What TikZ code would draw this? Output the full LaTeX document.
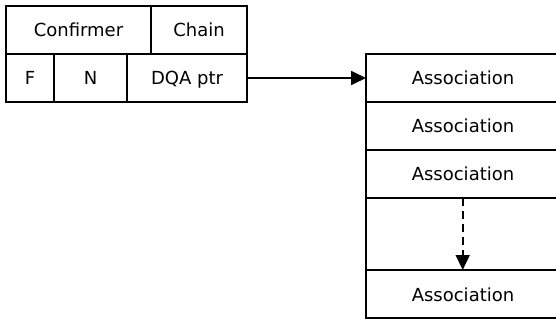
\documentclass[tikz,border=0pt]{standalone}
\usepackage{fontspec}
\setmainfont{DejaVu Sans}
\usetikzlibrary{arrows.meta}
\begin{document}
\begin{tikzpicture}[x=1pt,y=-1pt,
  cell/.style={draw,line width=1.8pt,anchor=north west,inner sep=0pt,outer sep=0pt,
    text height=14pt,text depth=0pt,
    font=\fontsize{18}{21}\selectfont},
  conn/.style={line width=1.8pt,-{Triangle[length=15pt,width=14pt]}}]
\useasboundingbox (0,0) rectangle (556,320);
\node[cell,minimum width=145pt,minimum height=48pt] (conf) at (6,6) {Confirmer};
\node[cell,minimum width=96pt,minimum height=48pt] (chain) at (151,6) {Chain};
\node[cell,minimum width=48pt,minimum height=48pt] (f) at (6,54) {F};
\node[cell,minimum width=73pt,minimum height=48pt] (n) at (54,54) {N};
\node[cell,minimum width=120pt,minimum height=48pt] (dqa) at (127,54) {DQA ptr};
\node[cell,minimum width=194pt,minimum height=48pt] (a1) at (366,54) {Association};
\node[cell,minimum width=194pt,minimum height=48pt] (a2) at (366,102) {Association};
\node[cell,minimum width=194pt,minimum height=48pt] (a3) at (366,150) {Association};
\node[cell,minimum width=194pt,minimum height=72pt] (gap) at (366,198) {};
\node[cell,minimum width=194pt,minimum height=48pt] (a4) at (366,270) {Association};
\draw[conn] (dqa.east) -- (a1.west);
\draw[conn,dash pattern=on 8pt off 5pt] ([xshift=-0.3pt]gap.north) -- ([xshift=-0.3pt]a4.north);
\end{tikzpicture}
\end{document}
